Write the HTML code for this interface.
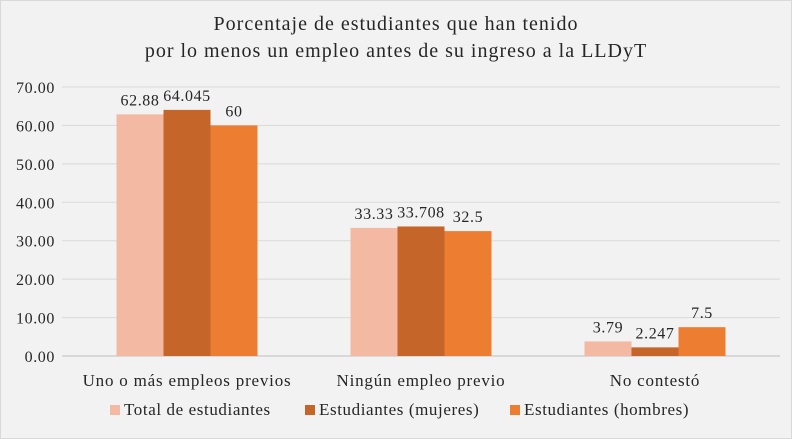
<!DOCTYPE html>
<html><head><meta charset="utf-8"><style>
html,body{margin:0;padding:0;background:#fff;}
svg{display:block;font-family:"Liberation Serif",serif;}
</style></head><body>
<svg id="chart" width="792" height="439" viewBox="0 0 792 439">
<rect x="0.5" y="0.5" width="791" height="438" fill="#f2f2f2" stroke="#d9d9d9"/>
<text x="396" y="30" text-anchor="middle" font-size="20" letter-spacing="1" fill="#262626">Porcentaje de estudiantes que han tenido</text>
<text x="396" y="57" text-anchor="middle" font-size="20" letter-spacing="1" fill="#262626">por lo menos un empleo antes de su ingreso a la LLDyT</text>
<g id="grid"></g><g id="yticks"></g><g id="bars"></g><g id="labels"></g><g id="xcats"></g><g id="legend"></g>
</svg>
<script>
const categories=["Uno o más empleos previos","Ningún empleo previo","No contestó"];
const seriesNames=["Total de estudiantes","Estudiantes (mujeres)","Estudiantes (hombres)"];
const totalValues=[62.88,33.33,3.79];
const womenValues=[64.045,33.708,2.247];
const menValues=[60,32.5,7.5];
const valueLabels=[["62.88","33.33","3.79"],["64.045","33.708","2.247"],["60","32.5","7.5"]];
const yTicks=[0,10,20,30,40,50,60,70];
const yTickLabels=["0.00","10.00","20.00","30.00","40.00","50.00","60.00","70.00"];
const colors=["#f4b9a3","#c5652a","#ed7d31"];
const series=[totalValues,womenValues,menValues];
const NS="http://www.w3.org/2000/svg";
const x0=70,x1=772,y0=356,yTop=87;
function yScale(v){return y0-(v/70)*(y0-yTop);}
const catW=(x1-x0)/categories.length;
function catCenter(i){return x0+catW*(i+0.5);}
const barW=47;
function mk(tag,attrs,parent){const e=document.createElementNS(NS,tag);for(const k in attrs)e.setAttribute(k,attrs[k]);document.getElementById(parent).appendChild(e);return e;}
yTicks.forEach((t,i)=>{
  const l=mk("line",{x1:62,x2:780,y1:yScale(t),y2:yScale(t),stroke:i===0?"#bfbfbf":"#d9d9d9","stroke-width":1},"grid");
  
  
  const tx=mk("text",{x:55,y:yScale(t)+6,"text-anchor":"end","font-size":16,"letter-spacing":0.6,fill:"#262626"},"yticks");
  tx.textContent=yTickLabels[i];
  
  
});
series.forEach((vals,s)=>{
  vals.forEach((v,i)=>{
    const bx=catCenter(i)+(s-1.5)*barW;
    const r=mk("rect",{x:bx,y:yScale(v),width:barW,height:y0-yScale(v),fill:colors[s]},"bars");
    
    
    const t=mk("text",{x:bx+barW/2,y:yScale(v)-9,"text-anchor":"middle","font-size":16,"letter-spacing":0.6,fill:"#262626"},"labels");
    t.textContent=valueLabels[s][i];
    
    
  });
});
categories.forEach((c,i)=>{
  const t=mk("text",{x:catCenter(i),y:386,"text-anchor":"middle","font-size":17,"letter-spacing":0.8,fill:"#262626"},"xcats");
  t.textContent=c;
  
  
});
const legX=[110,305,510];
seriesNames.forEach((n,s)=>{
  const r=mk("rect",{x:legX[s],y:405,width:10,height:10,fill:colors[s]},"legend");
  
  
  const t=mk("text",{x:legX[s]+14,y:415,"font-size":17,"letter-spacing":0.6,fill:"#262626"},"legend");
  t.textContent=n;
  
  
});
</script>
</body></html>
